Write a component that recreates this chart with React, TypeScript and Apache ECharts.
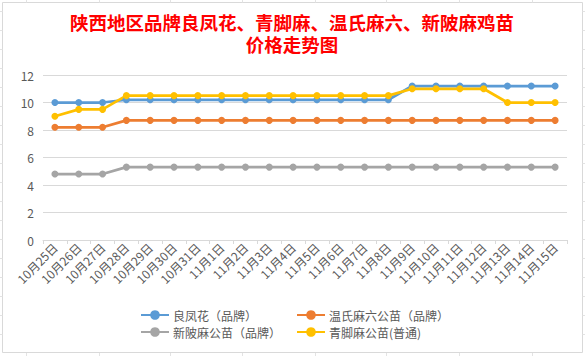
import React, { useEffect, useRef } from "react";
import * as echarts from "echarts";

const categories = [
  "10月25日", "10月26日", "10月27日", "10月28日", "10月29日", "10月30日", "10月31日",
  "11月1日", "11月2日", "11月3日", "11月4日", "11月5日", "11月6日", "11月7日", "11月8日",
  "11月9日", "11月10日", "11月11日", "11月12日", "11月13日", "11月14日", "11月15日",
];

const liangFengHua = [10, 10, 10, 10.2, 10.2, 10.2, 10.2, 10.2, 10.2, 10.2, 10.2, 10.2, 10.2, 10.2, 10.2, 11.2, 11.2, 11.2, 11.2, 11.2, 11.2, 11.2];
const wenShi = [8.2, 8.2, 8.2, 8.7, 8.7, 8.7, 8.7, 8.7, 8.7, 8.7, 8.7, 8.7, 8.7, 8.7, 8.7, 8.7, 8.7, 8.7, 8.7, 8.7, 8.7, 8.7];
const xinPi = [4.8, 4.8, 4.8, 5.3, 5.3, 5.3, 5.3, 5.3, 5.3, 5.3, 5.3, 5.3, 5.3, 5.3, 5.3, 5.3, 5.3, 5.3, 5.3, 5.3, 5.3, 5.3];
const qingJiao = [9, 9.5, 9.5, 10.5, 10.5, 10.5, 10.5, 10.5, 10.5, 10.5, 10.5, 10.5, 10.5, 10.5, 10.5, 11, 11, 11, 11, 10, 10, 10];

const seriesNames = ["良凤花（品牌）", "温氏麻六公苗（品牌）", "新陂麻公苗（品牌）", "青脚麻公苗(普通)"];
const seriesData = [liangFengHua, wenShi, xinPi, qingJiao];
const colors = ["#5B9BD5", "#ED7D31", "#A5A5A5", "#FFC000"];

const titleLines = ["陕西地区品牌良凤花、青脚麻、温氏麻六、新陂麻鸡苗", "价格走势图"];

const FONT = "'Noto Sans CJK SC', 'Noto Sans', sans-serif";

export default function App() {
  const ref = useRef<HTMLDivElement>(null);
  useEffect(() => {
    if (!ref.current) return;
    const chart = echarts.init(ref.current, null, { renderer: "svg" });

    const decor: any[] = [];
    const lineStyle = { stroke: "#E3E3E3", lineWidth: 1 };
    [26, 99, 170, 242, 315, 386, 459, 532].forEach((x) => {
      decor.push({ type: "line", shape: { x1: x + 0.5, y1: 0, x2: x + 0.5, y2: 2.5 }, style: lineStyle, silent: true });
      decor.push({ type: "line", shape: { x1: x + 0.5, y1: 353, x2: x + 0.5, y2: 356 }, style: lineStyle, silent: true });
    });
    for (let y = 11; y < 353; y += 19) {
      decor.push({ type: "line", shape: { x1: 0, y1: y + 0.5, x2: 2.5, y2: y + 0.5 }, style: lineStyle, silent: true });
      decor.push({ type: "line", shape: { x1: 582.5, y1: y + 0.5, x2: 585, y2: y + 0.5 }, style: lineStyle, silent: true });
    }
    decor.push({
      type: "rect",
      shape: { x: 2.5, y: 2.5, width: 580, height: 350 },
      style: { fill: "none", stroke: "#D9D9D9", lineWidth: 1 },
      silent: true,
      z: -1,
    });

    const legendPos = [
      { left: 140, top: 309 },
      { left: 296, top: 309 },
      { left: 140, top: 326 },
      { left: 296, top: 326 },
    ];

    const titleStyle = {
      color: "#FF0000",
      fontSize: 18.5,
      fontWeight: "bold",
      fontFamily: FONT,
      lineHeight: 20,
    };

    chart.setOption({
      animation: false,
      backgroundColor: "#FFFFFF",
      color: colors,
      title: [
        { text: titleLines[0], left: 292, textAlign: "center", top: 12, padding: 0, textStyle: titleStyle },
        { text: titleLines[1], left: 292, textAlign: "center", top: 34, padding: 0, textStyle: titleStyle },
      ],
      legend: seriesNames.map((n, i) => ({
        data: [n],
        left: legendPos[i].left,
        top: legendPos[i].top,
        padding: 0,
        itemWidth: 28,
        itemHeight: 12,
        itemGap: 0,
        textStyle: { color: "#595959", fontSize: 12, fontFamily: FONT, padding: [0, 0, 0, -1] },
        selectedMode: false,
      })),
      grid: { left: 43, right: 18, top: 75, bottom: 116, containLabel: false },
      xAxis: {
        type: "category",
        data: categories,
        boundaryGap: true,
        axisLine: { lineStyle: { color: "#D9D9D9", width: 1 } },
        axisTick: { show: true, length: 4, lineStyle: { color: "#D9D9D9" } },
        axisLabel: {
          rotate: 45,
          interval: 0,
          color: "#595959",
          fontSize: 12,
          fontFamily: FONT,
          margin: 5,
        },
        splitLine: { show: false },
      },
      yAxis: {
        type: "value",
        min: 0,
        max: 12,
        interval: 2,
        axisLine: { show: false },
        axisTick: { show: false },
        axisLabel: { color: "#595959", fontSize: 12, fontFamily: FONT, margin: 9 },
        splitLine: { lineStyle: { color: "#D9D9D9", width: 1 } },
      },
      series: seriesNames.map((n, i) => ({
        name: n,
        type: "line",
        data: seriesData[i],
        symbol: "circle",
        symbolSize: 7,
        lineStyle: { width: 2.75, color: colors[i] },
        itemStyle: { color: colors[i] },
      })),
      graphic: decor,
    });
    return () => chart.dispose();
  }, []);
  return (
    <div
      ref={ref}
      style={{ position: "fixed", left: 0, top: 0, width: 585, height: 356 }}
    />
  );
}
